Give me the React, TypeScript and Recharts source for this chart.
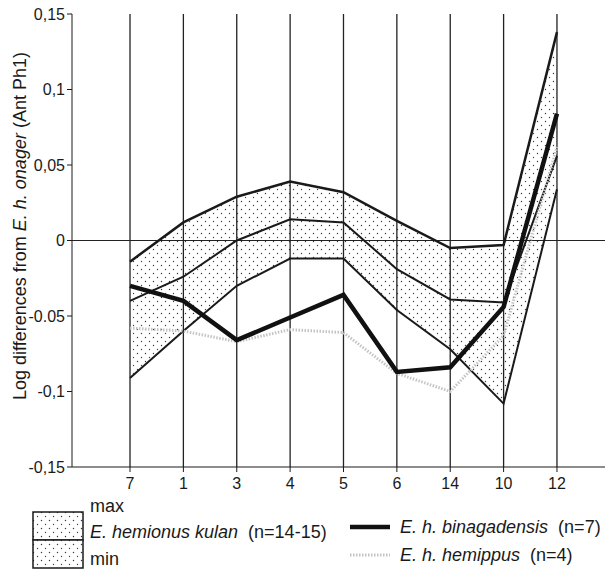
import React from "react";
import {
  ComposedChart,
  Area,
  Line,
  XAxis,
  YAxis,
  ReferenceLine,
} from "recharts";

const categories = ["7", "1", "3", "4", "5", "6", "14", "10", "12"];
const kulanMax = [-0.014, 0.012, 0.029, 0.039, 0.032, 0.013, -0.005, -0.003, 0.138];
const kulanMean = [-0.04, -0.024, 0.0, 0.014, 0.012, -0.019, -0.039, -0.041, 0.056];
const kulanMin = [-0.091, -0.06, -0.03, -0.012, -0.012, -0.046, -0.072, -0.108, 0.034];
const binagadensis = [-0.03, -0.04, -0.066, -0.051, -0.036, -0.087, -0.084, -0.044, 0.084];
const hemippus = [-0.058, -0.06, -0.067, -0.059, -0.061, -0.088, -0.1, -0.063, 0.062];
const yTicks = [-0.15, -0.1, -0.05, 0, 0.05, 0.1, 0.15];
const yTickLabels: Record<string, string> = {
  "-0.15": "-0,15",
  "-0.1": "-0,1",
  "-0.05": "-0.05",
  "0": "0",
  "0.05": "0,05",
  "0.1": "0,1",
  "0.15": "0,15",
};

const FONT = "'Liberation Sans', Arial, sans-serif";
const INK = "#1a1a1a";
const HEM = "#c4c4c4";

const data = categories.map((c, i) => ({
  idx: i,
  label: c,
  band: [kulanMin[i], kulanMax[i]],
  max: kulanMax[i],
  mean: kulanMean[i],
  min: kulanMin[i],
  bin: binagadensis[i],
  hem: hemippus[i],
}));

const StipplePattern = ({ id }: { id: string }) => (
  <pattern id={id} width="8" height="8" patternUnits="userSpaceOnUse">
    <rect width="8" height="8" fill="#fff" />
    <circle cx="1.5" cy="1.5" r="0.7" fill="#333" />
    <circle cx="5.5" cy="5.5" r="0.7" fill="#444" />
  </pattern>
);

const YLabel = () => (
  <text
    transform="translate(26,226) rotate(-90)"
    textAnchor="middle"
    fontFamily={FONT}
    fontSize={18}
    fill={INK}
  >
    <tspan>Log differences from </tspan>
    <tspan fontStyle="italic">E. h. onager</tspan>
    <tspan> (Ant Ph1)</tspan>
  </text>
);

const legendText = { position: "absolute" as const, fontSize: 18, color: INK, whiteSpace: "nowrap" as const };

export default function App() {
  return (
    <div style={{ position: "absolute", left: 0, top: 0, width: 605, height: 571, background: "#fff", fontFamily: FONT }}>
      <ComposedChart
        width={605}
        height={571}
        data={data}
        margin={{ top: 14, right: 0, left: 0, bottom: 0 }}
      >
        <defs>
          <StipplePattern id="stipple" />
        </defs>
        <XAxis
          type="number"
          dataKey="idx"
          domain={[-1.087, 8.9]}
          ticks={[0, 1, 2, 3, 4, 5, 6, 7, 8]}
          tickFormatter={(i) => categories[i]}
          allowDataOverflow
          height={104}
          stroke={INK}
          tickSize={5}
          tickMargin={6}
          tick={{ fill: INK, fontSize: 16, fontFamily: FONT }}
        />
        <YAxis
          type="number"
          domain={[-0.15, 0.15]}
          ticks={yTicks}
          tickFormatter={(v) => yTickLabels[String(v)] ?? String(v)}
          width={72}
          stroke={INK}
          tickSize={5}
          tick={{ fill: INK, fontSize: 16, fontFamily: FONT }}
          label={<YLabel />}
        />
        {categories.map((c, i) => (
          <ReferenceLine key={c} x={i} stroke="#222" strokeWidth={1.3} />
        ))}
        <ReferenceLine y={0} stroke="#222" strokeWidth={1.2} />
        <Area
          dataKey="band"
          fill="url(#stipple)"
          fillOpacity={1}
          stroke="none"
          isAnimationActive={false}
        />
        <Line dataKey="max" stroke={INK} strokeWidth={2.5} dot={false} isAnimationActive={false} />
        <Line dataKey="mean" stroke={INK} strokeWidth={2} dot={false} isAnimationActive={false} />
        <Line dataKey="min" stroke={INK} strokeWidth={2} dot={false} isAnimationActive={false} />
        <Line
          dataKey="hem"
          stroke={HEM}
          strokeWidth={3}
          strokeDasharray="1.5 1.5"
          dot={false}
          isAnimationActive={false}
        />
        <Line dataKey="bin" stroke="#111" strokeWidth={4.5} dot={false} isAnimationActive={false} />
      </ComposedChart>

      {/* legend */}
      <svg style={{ position: "absolute", left: 32, top: 511 }} width={52} height={58}>
        <defs>
          <StipplePattern id="stipple2" />
        </defs>
        <rect x={1} y={1} width={50} height={28} fill="url(#stipple2)" stroke={INK} strokeWidth={1.5} />
        <rect x={1} y={29} width={50} height={28} fill="url(#stipple2)" stroke={INK} strokeWidth={1.5} />
      </svg>
      <div style={{ ...legendText, left: 90, top: 496 }}>max</div>
      <div style={{ ...legendText, left: 90, top: 522 }}>
        <i>E. hemionus kulan</i>&nbsp; (n=14-15)
      </div>
      <div style={{ ...legendText, left: 90, top: 549 }}>min</div>

      <svg style={{ position: "absolute", left: 348, top: 515 }} width={44} height={46}>
        <line x1={2} y1={12} x2={42} y2={12} stroke="#111" strokeWidth={4.5} />
        <line x1={2} y1={40} x2={42} y2={40} stroke={HEM} strokeWidth={3} strokeDasharray="1.5 1.5" />
      </svg>
      <div style={{ ...legendText, left: 400, top: 517 }}>
        <i>E. h. binagadensis</i>&nbsp; (n=7)
      </div>
      <div style={{ ...legendText, left: 400, top: 545 }}>
        <i>E. h. hemippus</i>&nbsp; (n=4)
      </div>
    </div>
  );
}
